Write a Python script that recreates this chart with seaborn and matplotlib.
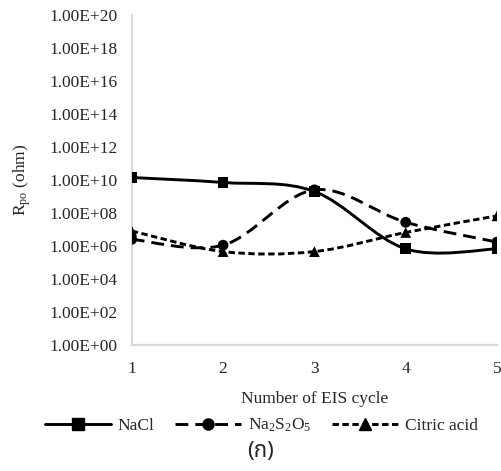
import numpy as np
import pandas as pd
import seaborn as sns
import matplotlib.pyplot as plt
from matplotlib.path import Path
from matplotlib.patches import PathPatch
from matplotlib.lines import Line2D
from matplotlib.ticker import FixedLocator, NullFormatter

cycles = [1, 2, 3, 4, 5]
nacl = [1.4e10, 7.0e9, 2.0e9, 6.6e5, 6.5e5]
na2s2o5 = [2.5e6, 1.1e6, 2.5e9, 2.7e7, 1.7e6]
citric = [8.0e6, 4.5e5, 4.5e5, 6.5e6, 6.6e7]
names = ['NaCl', 'Na$_2$S$_2$O$_5$', 'Citric acid']
y_ticks = [10.0 ** k for k in range(0, 21, 2)]
y_labels = ['1.00E+%02d' % k for k in range(0, 21, 2)]

df = pd.DataFrame({
    'cycle': cycles * 3,
    'rpo': nacl + na2s2o5 + citric,
    'series': [n for n in names for _ in cycles],
})

sns.set_style('white')
plt.rcParams['font.family'] = 'Liberation Serif'
plt.rcParams['mathtext.fontset'] = 'custom'
plt.rcParams['mathtext.rm'] = 'Liberation Serif'
plt.rcParams['mathtext.it'] = 'Liberation Serif:italic'


def smooth_path(x, y):
    # excel-like smoothed line: catmull-rom bezier in log space
    pts = np.column_stack([np.asarray(x, float), np.log10(y)])
    p = np.vstack([pts[0], pts, pts[-1]])
    verts = [pts[0]]
    codes = [Path.MOVETO]
    for i in range(1, len(p) - 2):
        c1 = p[i] + (p[i + 1] - p[i - 1]) / 6
        c2 = p[i + 1] - (p[i + 2] - p[i]) / 6
        verts += [c1, c2, p[i + 1]]
        codes += [Path.CURVE4] * 3
    verts = np.array(verts)
    verts[:, 1] = 10 ** verts[:, 1]
    return Path(verts, codes)


fig = plt.figure(figsize=(5.01, 4.71), dpi=100)
ax = fig.add_axes([0.263, 0.268, 0.729, 0.700])
ax.set_yscale('log')

lw = 2.1
styles = {
    'NaCl': dict(ls='-', marker='s'),
    'Na$_2$S$_2$O$_5$': dict(ls=(0, (4.4, 2.4)), marker='o'),
    'Citric acid': dict(ls=(0, (2.2, 1.2)), marker='^'),
}
for name, vals in zip(names, [nacl, na2s2o5, citric]):
    patch = PathPatch(smooth_path(cycles, vals), fill=False, edgecolor='black',
                      lw=lw, linestyle=styles[name]['ls'], capstyle='butt')
    ax.add_patch(patch)

sns.scatterplot(data=df, x='cycle', y='rpo', style='series',
                markers={n: styles[n]['marker'] for n in names},
                color='black', s=60, linewidth=0, legend=False, ax=ax, zorder=3)

ax.set_xlim(1, 5)
ax.set_ylim(1, 1e20)
ax.set_xticks(cycles)
ax.yaxis.set_major_locator(FixedLocator(y_ticks))
ax.set_yticklabels(y_labels)
minor = [k * 10.0 ** e for e in range(1, 20, 2) for k in range(1, 10)]
ax.yaxis.set_minor_locator(FixedLocator(minor))
ax.yaxis.set_minor_formatter(NullFormatter())
ax.tick_params(axis='y', which='major', length=0, pad=10, labelsize=12.5)
ax.tick_params(axis='y', which='minor', direction='in', length=4, width=1.4,
               color='#d0d0d0')
ax.tick_params(axis='x', length=0, pad=12, labelsize=12.5)

for side in ['top', 'right']:
    ax.spines[side].set_visible(False)
for side in ['left', 'bottom']:
    ax.spines[side].set_color('#d9d9d9')
    ax.spines[side].set_linewidth(1.6)

ax.set_xlabel('Number of EIS cycle', fontsize=12.5, labelpad=10)
ax.set_ylabel(r'R$_{\mathrm{po}}$ (ohm)', fontsize=12.5, labelpad=12)
ax.set_facecolor('white')

handles = [Line2D([], [], color='black', lw=lw, linestyle=styles[n]['ls'],
                  marker=styles[n]['marker'], markersize=8, dash_capstyle='butt')
           for n in names]
fig.legend(handles, names, loc='center', bbox_to_anchor=(0.522, 0.096), ncol=3,
           frameon=False, fontsize=12.5, handlelength=3.8, columnspacing=1.2,
           handletextpad=0.4)

fig.text(0.52, 0.042, '(ก)', ha='center', va='center', fontsize=16,
         family=['Noto Sans Thai', 'DejaVu Sans'])

fig.savefig('out.png', dpi=100, facecolor='white')
